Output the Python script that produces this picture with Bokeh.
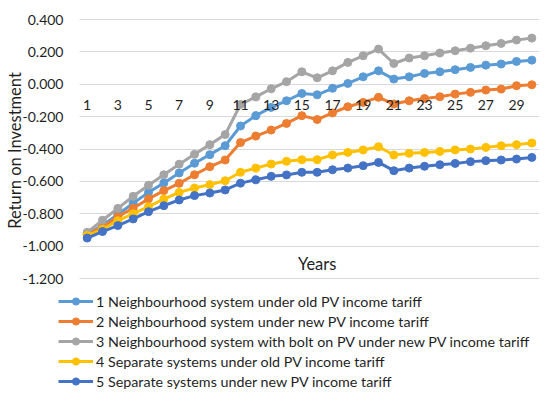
import math
from bokeh.plotting import figure
from bokeh.models import Range1d, FixedTicker, Legend, LegendItem, Label
from bokeh.embed import file_html
from bokeh.resources import INLINE

years = list(range(1, 31))
x_tick_years = [1, 3, 5, 7, 9, 11, 13, 15, 17, 19, 21, 23, 25, 27, 29]
y_ticks = [-1.2, -1.0, -0.8, -0.6, -0.4, -0.2, 0.0, 0.2, 0.4]
y_tick_labels = ["-1.200", "-1.000", "-0.800", "-0.600", "-0.400", "-0.200", "0.000", "0.200", "0.400"]

names = [
    "1 Neighbourhood system under old PV income tariff",
    "2 Neighbourhood system under new PV income tariff",
    "3 Neighbourhood system with bolt on PV under new PV income tariff",
    "4 Separate systems under old PV income tariff",
    "5 Separate systems under new PV income tariff",
]

s1 = [-0.925, -0.873, -0.805, -0.735, -0.668, -0.610, -0.548, -0.488, -0.435, -0.380,
      -0.258, -0.194, -0.143, -0.102, -0.057, -0.065, -0.025, 0.005, 0.046, 0.083,
      0.032, 0.046, 0.067, 0.077, 0.090, 0.104, 0.118, 0.125, 0.141, 0.149]
s2 = [-0.925, -0.884, -0.818, -0.766, -0.708, -0.657, -0.612, -0.559, -0.509, -0.468,
      -0.360, -0.320, -0.283, -0.242, -0.194, -0.218, -0.177, -0.139, -0.112, -0.081,
      -0.122, -0.102, -0.088, -0.077, -0.061, -0.050, -0.036, -0.030, -0.009, -0.003]
s3 = [-0.915, -0.840, -0.767, -0.692, -0.624, -0.559, -0.494, -0.433, -0.373, -0.311,
      -0.125, -0.078, -0.028, 0.016, 0.077, 0.040, 0.083, 0.135, 0.176, 0.217,
      0.128, 0.162, 0.176, 0.193, 0.207, 0.223, 0.238, 0.252, 0.273, 0.285]
s4 = [-0.935, -0.896, -0.843, -0.800, -0.756, -0.709, -0.668, -0.641, -0.620, -0.596,
      -0.544, -0.518, -0.493, -0.476, -0.466, -0.466, -0.437, -0.421, -0.406, -0.386,
      -0.437, -0.427, -0.421, -0.415, -0.406, -0.400, -0.390, -0.380, -0.373, -0.363]
s5 = [-0.950, -0.910, -0.873, -0.832, -0.787, -0.750, -0.715, -0.688, -0.672, -0.653,
      -0.611, -0.590, -0.569, -0.560, -0.544, -0.544, -0.528, -0.518, -0.503, -0.483,
      -0.534, -0.518, -0.507, -0.497, -0.489, -0.478, -0.472, -0.468, -0.462, -0.452]

series = [s1, s2, s3, s4, s5]
colors = ["#5B9BD5", "#ED7D31", "#A5A5A5", "#FFC000", "#4472C4"]

FONT = "Lato"
TXT = "#1f1f1f"

# pixel layout: the frame covers the whole canvas, the plot area sits inside it
W, H = 539, 390
PLOT_L, PLOT_R, PLOT_T, PLOT_B = 79, 539, 19, 278
X0, X1 = 0.5, 30.5
Y0, Y1 = -1.2, 0.4
xs = (PLOT_R - PLOT_L) / (X1 - X0)
ys = (PLOT_B - PLOT_T) / (Y1 - Y0)
x_range = Range1d(X0 - PLOT_L / xs, X1 + (W - PLOT_R) / xs)
y_range = Range1d(Y0 - (H - PLOT_B) / ys, Y1 + PLOT_T / ys)

p = figure(width=W, height=H, output_backend="svg", toolbar_location=None,
           x_range=x_range, y_range=y_range,
           min_border_left=0, min_border_right=0, min_border_top=0, min_border_bottom=0)
p.outline_line_color = None
p.background_fill_color = "white"
p.border_fill_color = "white"

# x axis drawn at y = 0
p.xaxis.fixed_location = 0
p.xaxis.bounds = (X0, X1)
p.xaxis.ticker = FixedTicker(ticks=x_tick_years)
p.xaxis.axis_line_color = None
p.xaxis.major_tick_line_color = None
p.xaxis.minor_tick_line_color = None
p.xaxis.major_tick_out = 0
p.xaxis.major_label_standoff = 16
p.xaxis.major_label_text_font = FONT
p.xaxis.major_label_text_font_size = "14px"
p.xaxis.major_label_text_color = TXT
p.xgrid.grid_line_color = None

# y axis drawn at the left edge of the plot area
p.yaxis.fixed_location = X0
p.yaxis.bounds = (Y0, Y1)
p.yaxis.ticker = FixedTicker(ticks=y_ticks)
p.yaxis.major_label_overrides = {t: l for t, l in zip(y_ticks, y_tick_labels)}
p.yaxis.axis_line_color = None
p.yaxis.major_tick_line_color = None
p.yaxis.minor_tick_line_color = None
p.yaxis.major_tick_out = 0
p.yaxis.major_label_standoff = 16
p.yaxis.major_label_text_font = FONT
p.yaxis.major_label_text_font_size = "14px"
p.yaxis.major_label_text_color = TXT
p.ygrid.ticker = FixedTicker(ticks=y_ticks)
p.ygrid.cross_bounds = (X0, X1)
p.ygrid.grid_line_color = "#D9D9D9"
p.ygrid.grid_line_width = 1

items = []
for name, yv, c in zip(names, series, colors):
    lr = p.line(years, yv, line_color=c, line_width=3)
    sr = p.scatter(years, yv, size=8, fill_color=c, line_color=c)
    items.append(LegendItem(label=name, renderers=[lr, sr]))

# axis titles
p.add_layout(Label(x=14, y=H - 150, x_units="screen", y_units="screen", angle=math.pi / 2,
                   text="Return on Investment", text_align="center", text_baseline="middle",
                   text_font=FONT, text_font_size="16.5px", text_color=TXT))
p.add_layout(Label(x=16.0, y=-1.108, text="Years", text_align="center", text_baseline="middle",
                   text_font=FONT, text_font_size="16.5px", text_color=TXT))

legend = Legend(items=items, location=(58, 0), orientation="vertical",
                glyph_width=35, glyph_height=18, label_height=18, spacing=2, padding=0, margin=0,
                label_standoff=3, label_text_font=FONT, label_text_font_size="14.3px",
                label_text_color=TXT, background_fill_alpha=0, border_line_color=None)
p.add_layout(legend)

open("out.html", "w").write(file_html(p, INLINE))
